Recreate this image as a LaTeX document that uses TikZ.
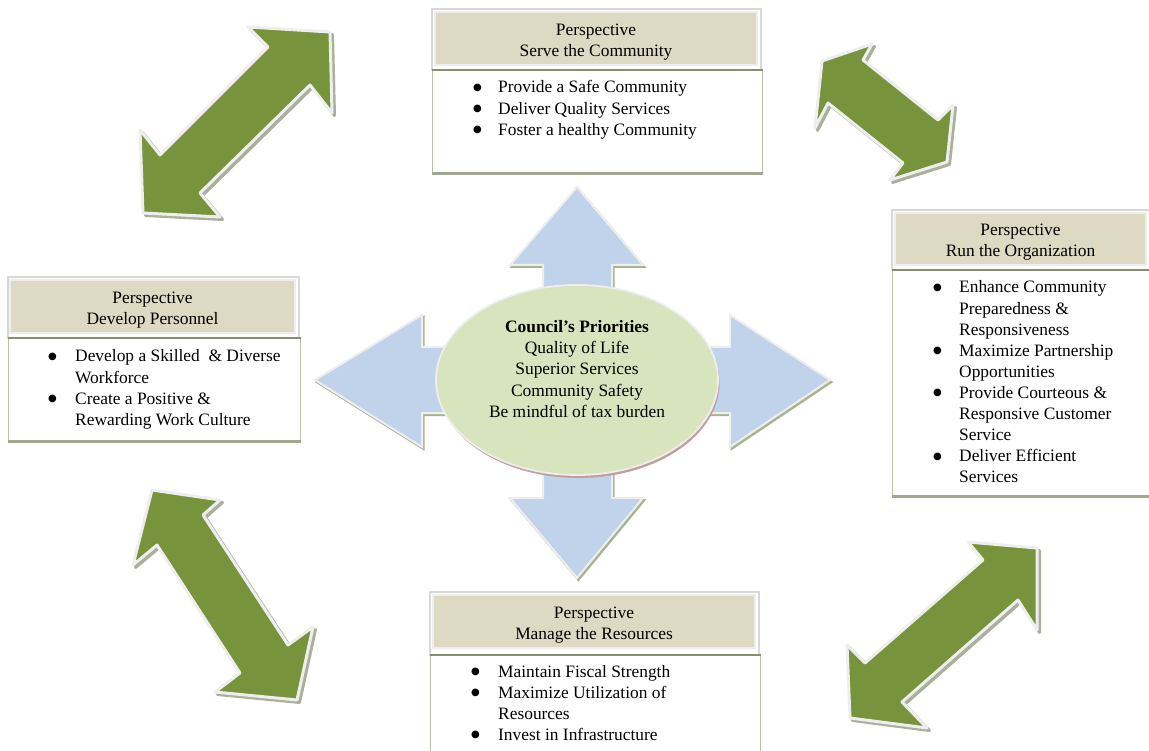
\documentclass[tikz,border=0pt]{standalone}
\usepackage{fontspec}
\setmainfont{Liberation Serif}
\newfontfamily\symf{DejaVu Sans}
\usetikzlibrary{shapes.geometric}
\definecolor{tanc}{HTML}{DDD9C3}
\definecolor{ellc}{HTML}{D7E4BD}
\definecolor{bluec}{HTML}{C0D3EB}
\definecolor{greenc}{HTML}{77933C}
\definecolor{sepc}{HTML}{868F70}
\definecolor{botc}{HTML}{A0A88E}
\definecolor{sidec}{HTML}{B9C1A6}
\definecolor{framec}{HTML}{D8D8D8}
\definecolor{halo}{HTML}{EEEEEE}
\definecolor{gshadow}{HTML}{AAB09C}
\definecolor{bshadow}{HTML}{A8B392}
\definecolor{eshadow}{HTML}{BFA09C}
\newcommand{\bul}[1]{\makebox[#1][l]{\raisebox{2.6pt}{\symf\fontsize{10}{10}\selectfont ●}}}
\newcommand{\txt}{\fontsize{17.4}{21.1}\selectfont}
\tikzset{
  hdr/.style={draw=halo, line width=1.5pt, fill=tanc, inner sep=0pt},
  hdrtext/.style={align=center, inner sep=0pt, font=\txt},
  bodyb/.style={draw=sidec, line width=1.3pt, fill=white, inner sep=0pt},
  items/.style={inner sep=0pt, font=\txt},
  frm/.style={draw=framec, line width=1.2pt, fill=white},
  sepline/.style={draw=sepc, line width=2.6pt},
  botline/.style={draw=botc, line width=2.6pt},
  garrow/.style={fill=greenc, draw=halo, line width=3pt, line join=round},
  gshad/.style={fill=gshadow, draw=gshadow, line width=3pt, line join=round},
}
\begin{document}
\begin{tikzpicture}[x=1pt,y=-1pt]
\useasboundingbox (0,0) rectangle (1149,751);
\clip (0,0) rectangle (1149,751);

% ---------- green double arrows ----------
\def\TL{(248,27)--(330,32)--(332,113)--(310,85)--(200,193)--(220,217)--(143,213)--(140,130)--(160,155)--(268,47)--cycle}
\def\TR{(872,44)--(822,61)--(815,128)--(828,103)--(903,163)--(890,180)--(947,162)--(953,105)--(938,120)--(863,60)--cycle}
\def\BL{(152,490)--(220,500)--(203,515)--(288,645)--(313,627)--(297,700)--(215,692)--(240,673)--(157,545)--(133,565)--cycle}
\def\BR{(850,718)--(847,645)--(865,663)--(983,560)--(968,542)--(1037,548)--(1037,630)--(1018,600)--(902,702)--(927,728)--cycle}
\foreach \p in {\TL,\TR,\BL,\BR}{
  \path[gshad, shift={(2.5,2.5)}] \p;
  \path[garrow] \p;
}

% ---------- blue quad arrow ----------
\def\QA{(577,187)--(643,265)--(612,265)--(612,347)--(730,347)--(730,315)--(830,380)--(730,447)--(730,413)--(612,413)--(612,498)--(643,498)--(577,578)--(510,498)--(543,498)--(543,413)--(422,413)--(422,447)--(315,380)--(422,315)--(422,347)--(543,347)--(543,265)--(510,265)--cycle}
\path[fill=bshadow, draw=bshadow, line width=2pt, shift={(1.5,2)}] \QA;
\path[fill=bluec, draw=halo, line width=2pt] \QA;

% ---------- central ellipse ----------
\fill[eshadow] (578.5,383) ellipse [x radius=141, y radius=95];
\node[ellipse, minimum width=282pt, minimum height=190pt, fill=ellc, draw=halo, line width=1.8pt, inner sep=0pt] (cp) at (577,380) {};
\node[align=center, inner sep=0pt, font=\txt] (cpt) at (577,369)
  {\textbf{Council’s Priorities}\\Quality of Life\\Superior Services\\Community Safety\\Be mindful of tax burden};

% ---------- Serve the Community (top) ----------
\draw[frm] (432,9) rectangle (761,70);
\node[hdr, minimum width=322pt, minimum height=53pt] (serveH) at (596,38.5) {};
\node[hdrtext] (serveHt) at (596,42) {Perspective\\Serve the Community};
\node[bodyb, minimum width=330pt, minimum height=102pt, anchor=north west] (serveB) at (432,70) {};
\draw[sepline] (serveB.north west) -- (serveB.north east);
\draw[botline] (serveB.south west) -- (serveB.south east);
\node[items, anchor=base west] (serveT) at (473,93) {\begin{tabular}[t]{@{}l@{}l@{}}
\bul{25pt} & Provide a Safe Community\\
\bul{25pt} & Deliver Quality Services\\
\bul{25pt} & Foster a healthy Community
\end{tabular}};

% ---------- Develop Personnel (left) ----------
\draw[frm] (8,277) rectangle (299,338);
\node[hdr, minimum width=285pt, minimum height=53pt] (devH) at (152.5,306.5) {};
\node[hdrtext] (devHt) at (152.5,310) {Perspective\\Develop Personnel};
\node[bodyb, minimum width=292pt, minimum height=102pt, anchor=north west] (devB) at (8,338) {};
\draw[sepline] (devB.north west) -- (devB.north east);
\draw[botline] (devB.south west) -- (devB.south east);
\node[items, anchor=base west] (devT) at (48,362) {\begin{tabular}[t]{@{}l@{}l@{}}
\bul{27pt} & Develop a Skilled\ \ \& Diverse\\
 & Workforce\\
\bul{27pt} & Create a Positive \&\\
 & Rewarding Work Culture
\end{tabular}};

% ---------- Run the Organization (right) ----------
\draw[frm] (892,210) rectangle (1152,270);
\node[hdr, minimum width=251pt, minimum height=52pt] (runH) at (1020.5,239) {};
\node[hdrtext] (runHt) at (1020.5,242.5) {Perspective\\Run the Organization};
\node[bodyb, minimum width=262pt, minimum height=225pt, anchor=north west] (runB) at (892,270) {};
\draw[sepline] (runB.north west) -- (runB.north east);
\draw[botline] (runB.south west) -- (runB.south east);
\node[items, anchor=base west] (runT) at (933,293) {\begin{tabular}[t]{@{}l@{}l@{}}
\bul{26pt} & Enhance Community\\
 & Preparedness \&\\
 & Responsiveness\\
\bul{26pt} & Maximize Partnership\\
 & Opportunities\\
\bul{26pt} & Provide Courteous \&\\
 & Responsive Customer\\
 & Service\\
\bul{26pt} & Deliver Efficient\\
 & Services
\end{tabular}};

% ---------- Manage the Resources (bottom) ----------
\draw[frm] (430,592) rectangle (759,655);
\node[hdr, minimum width=322pt, minimum height=53pt] (manH) at (594,621.5) {};
\node[hdrtext] (manHt) at (594,625) {Perspective\\Manage the Resources};
\node[bodyb, minimum width=330pt, minimum height=110pt, anchor=north west] (manB) at (430,655) {};
\draw[sepline] (manB.north west) -- (manB.north east);
\node[items, anchor=base west] (manT) at (471,677) {\begin{tabular}[t]{@{}l@{}l@{}}
\bul{27pt} & Maintain Fiscal Strength\\
\bul{27pt} & Maximize Utilization of\\
 & Resources\\
\bul{27pt} & Invest in Infrastructure
\end{tabular}};
\end{tikzpicture}
\end{document}
